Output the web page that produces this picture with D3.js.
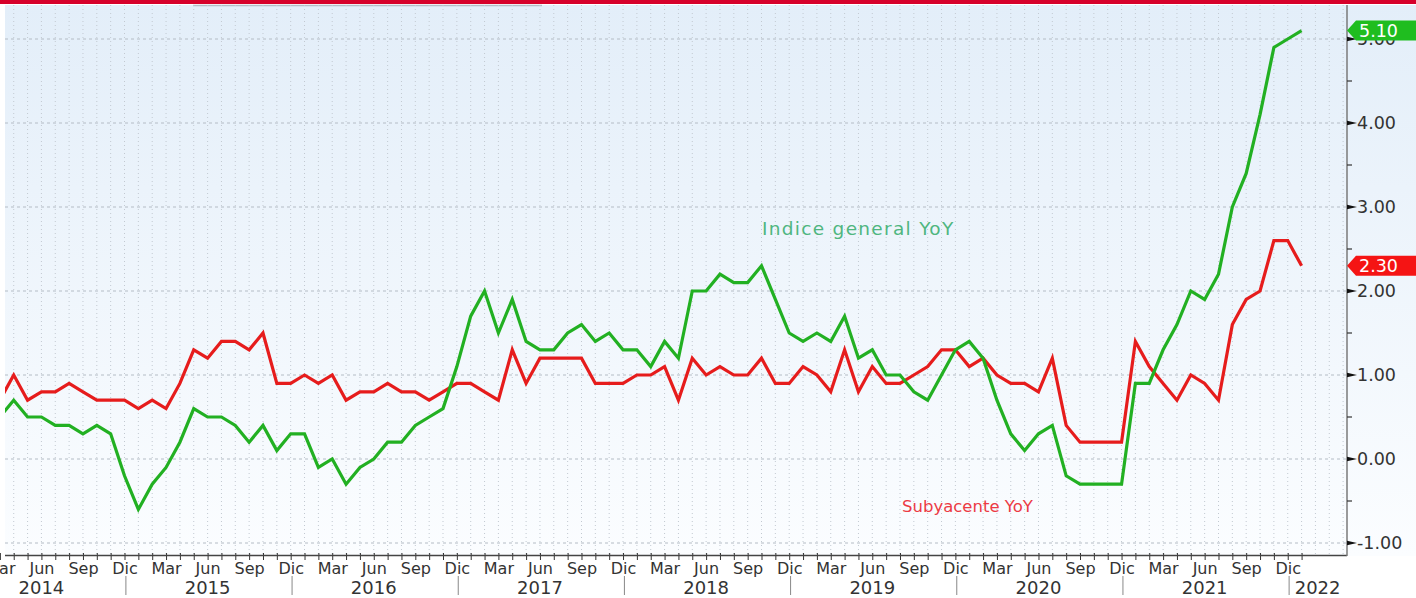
<!DOCTYPE html>
<html>
<head>
<meta charset="utf-8">
<script src="https://cdn.jsdelivr.net/npm/d3@7"></script>
<style>
  html, body { margin: 0; padding: 0; background: #ffffff; }
  svg { display: block; }
  text { font-family: "DejaVu Sans", Verdana, sans-serif; }
</style>
</head>
<body>
<div id="chart"></div>
<script>
// months run Mar 2014 .. Jan 2022, index 0 = Jan 2014
var firstMonth = 2

var general = [
    0.5, 0.7, 0.5, 0.5, 0.4, 0.4, 0.3, 0.4, 0.3, -0.2,
    -0.6, -0.3, -0.1, 0.2, 0.6, 0.5, 0.5, 0.4, 0.2, 0.4, 0.1, 0.3,
    0.3, -0.1, 0.0, -0.3, -0.1, 0.0, 0.2, 0.2, 0.4, 0.5, 0.6, 1.1,
    1.7, 2.0, 1.5, 1.9, 1.4, 1.3, 1.3, 1.5, 1.6, 1.4, 1.5, 1.3,
    1.3, 1.1, 1.4, 1.2, 2.0, 2.0, 2.2, 2.1, 2.1, 2.3, 1.9, 1.5,
    1.4, 1.5, 1.4, 1.7, 1.2, 1.3, 1.0, 1.0, 0.8, 0.7, 1.0, 1.3,
    1.4, 1.2, 0.7, 0.3, 0.1, 0.3, 0.4, -0.2, -0.3, -0.3, -0.3, -0.3,
    0.9, 0.9, 1.3, 1.6, 2.0, 1.9, 2.2, 3.0, 3.4, 4.1, 4.9, 5.0,
    5.1]

var core = [
    0.7, 1.0, 0.7, 0.8, 0.8, 0.9, 0.8, 0.7, 0.7, 0.7,
    0.6, 0.7, 0.6, 0.9, 1.3, 1.2, 1.4, 1.4, 1.3, 1.5, 0.9, 0.9,
    1.0, 0.9, 1.0, 0.7, 0.8, 0.8, 0.9, 0.8, 0.8, 0.7, 0.8, 0.9,
    0.9, 0.8, 0.7, 1.3, 0.9, 1.2, 1.2, 1.2, 1.2, 0.9, 0.9, 0.9,
    1.0, 1.0, 1.1, 0.7, 1.2, 1.0, 1.1, 1.0, 1.0, 1.2, 0.9, 0.9,
    1.1, 1.0, 0.8, 1.3, 0.8, 1.1, 0.9, 0.9, 1.0, 1.1, 1.3, 1.3,
    1.1, 1.2, 1.0, 0.9, 0.9, 0.8, 1.2, 0.4, 0.2, 0.2, 0.2, 0.2,
    1.4, 1.1, 0.9, 0.7, 1.0, 0.9, 0.7, 1.6, 1.9, 2.0, 2.6, 2.6,
    2.3]

var monthNames = ['Ene', 'Feb', 'Mar', 'Abr', 'May', 'Jun', 'Jul', 'Ago', 'Sep', 'Oct', 'Nov', 'Dic']
var labelMonths = ['Mar', 'Jun', 'Sep', 'Dic']
var years = [2014, 2015, 2016, 2017, 2018, 2019, 2020, 2021, 2022]
var yTicks = [-1, 0, 1, 2, 3, 4, 5]
var yMinor = [-0.5, 0.5, 1.5, 2.5, 3.5, 4.5]

var width = 1416, height = 598
var pLeft = 5, pRight = 1347, pTop = 5, pBottom = 556

var svg = d3.select('#chart').append('svg')
    .attr('width', width)
    .attr('height', height)

var defs = svg.append('defs')
var grad = defs.append('linearGradient')
    .attr('id', 'bg').attr('x1', 0).attr('y1', 0).attr('x2', 0).attr('y2', 1)
grad.append('stop').attr('offset', '0%').attr('stop-color', '#e3eef9')
grad.append('stop').attr('offset', '100%').attr('stop-color', '#fbfdff')

defs.append('clipPath').attr('id', 'clip')
    .append('rect')
    .attr('x', pLeft).attr('y', pTop)
    .attr('width', pRight - pLeft).attr('height', pBottom - pTop)

// background
svg.append('rect')
    .attr('x', pLeft).attr('y', pTop)
    .attr('width', width - pLeft).attr('height', pBottom - pTop)
    .style('fill', 'url(#bg)')

// red strip on top
svg.append('rect')
    .attr('x', 0).attr('y', 0)
    .attr('width', width).attr('height', 4)
    .style('fill', '#d6002a')
svg.append('line')
    .attr('x1', 193).attr('x2', 542).attr('y1', 5.5).attr('y2', 5.5)
    .style('stroke', '#b3bcc6').style('stroke-width', 1.5)

// scales
var x = d3.scaleLinear()
    .domain([2.37, 99.28])
    .range([pLeft, pRight])
var y = d3.scaleLinear()
    .domain([-1, 5])
    .range([543, 39])

var monthIdx = d3.range(firstMonth, firstMonth + general.length)
var allTicks = d3.range(2, firstMonth + general.length)

// grid
var grid = svg.append('g')
grid.selectAll('.vgrid')
    .data(d3.range(3, 100))
    .enter()
    .append('line')
    .attr('x1', d => x(d)).attr('x2', d => x(d))
    .attr('y1', pTop).attr('y2', pBottom)
    .style('stroke', '#c2c9d1')
    .style('stroke-width', 1)
    .style('stroke-dasharray', '1,3')
grid.selectAll('.hgrid')
    .data(yTicks)
    .enter()
    .append('line')
    .attr('x1', pLeft).attr('x2', pRight)
    .attr('y1', d => y(d)).attr('y2', d => y(d))
    .style('stroke', '#b4bcc5')
    .style('stroke-width', 1)
    .style('stroke-dasharray', '3,3')

// lines
var line = d3.line()
    .x(function (d) { return x(d[0]) })
    .y(function (d) { return y(d[1]) })

var lines = svg.append('g').attr('clip-path', 'url(#clip)')
lines.append('path')
    .datum(monthIdx.map((m, i) => [m, core[i]]))
    .attr('d', line)
    .style('fill', 'none')
    .style('stroke', '#e61c1c')
    .style('stroke-width', 3.2)
lines.append('path')
    .datum(monthIdx.map((m, i) => [m, general[i]]))
    .attr('d', line)
    .style('fill', 'none')
    .style('stroke', '#22b022')
    .style('stroke-width', 3.2)

// series labels
svg.append('text')
    .attr('x', 762).attr('y', 235)
    .text('Indice general YoY')
    .style('font-size', '18.5px')
    .style('letter-spacing', '1.3px')
    .style('fill', '#4fb67f')
svg.append('text')
    .attr('x', 902).attr('y', 512)
    .text('Subyacente YoY')
    .style('font-size', '16.5px')
    .style('fill', '#ec3a44')

// bottom axis
var xAxis = svg.append('g')
    .attr('transform', 'translate(0,' + pBottom + ')')
    .call(d3.axisBottom(x)
        .tickValues(allTicks)
        .tickSize(4)
        .tickPadding(3)
        .tickFormat(function (d) {
            var name = monthNames[d % 12]
            return labelMonths.indexOf(name) >= 0 ? name : ''
        }))
xAxis.select('.domain').remove()
xAxis.selectAll('.tick line')
    .attr('y1', -3)
    .style('stroke', '#333')
xAxis.selectAll('.tick text')
    .style('font-family', 'DejaVu Sans')
    .style('font-size', '16px')
    .style('fill', '#333')
svg.append('line')
    .attr('x1', pLeft).attr('x2', pRight)
    .attr('y1', pBottom - 0.5).attr('y2', pBottom - 0.5)
    .style('stroke', '#444').style('stroke-width', 1.5)

// year separators and labels
var yearAxis = svg.append('g')
years.forEach(function (yr) {
    var i0 = (yr - 2014) * 12 - 1
    var sx = x(i0 + 0.1)
    if (sx > pLeft && sx < pRight) {
        yearAxis.append('line')
            .attr('x1', sx).attr('x2', sx)
            .attr('y1', 576).attr('y2', 595)
            .style('stroke', '#888').style('stroke-width', 1)
    }
    var cx = (x(i0) + x(i0 + 12)) / 2
    var anchor = 'middle'
    if (x(i0 + 12) > pRight) {
        cx = x(i0) + 7
        anchor = 'start'
    }
    yearAxis.append('text')
        .attr('x', cx).attr('y', 594)
        .attr('text-anchor', anchor)
        .text(yr)
        .style('font-size', '18px')
        .style('fill', '#333')
})

// right axis
svg.append('line')
    .attr('x1', pRight).attr('x2', pRight)
    .attr('y1', pTop).attr('y2', pBottom)
    .style('stroke', '#7a7a7a').style('stroke-width', 1.5)
var yAxis = svg.append('g')
yAxis.selectAll('.major')
    .data(yTicks)
    .enter()
    .append('path')
    .attr('d', d => 'M' + pRight + ',' + (y(d) - 2.2) + 'L' + (pRight + 10) + ',' + y(d) + 'L' + pRight + ',' + (y(d) + 2.2) + 'Z')
    .style('fill', '#111')
yAxis.selectAll('.minor')
    .data(yMinor)
    .enter()
    .append('line')
    .attr('x1', pRight).attr('x2', pRight + 5)
    .attr('y1', d => y(d)).attr('y2', d => y(d))
    .style('stroke', '#333').style('stroke-width', 1.2)
yAxis.selectAll('.lab')
    .data(yTicks)
    .enter()
    .append('text')
    .attr('x', pRight + 10).attr('y', d => y(d))
    .attr('dy', '0.36em')
    .text(d => d.toFixed(2))
    .style('font-size', '17.5px')
    .style('fill', '#333')

// last value tags
function tag(value, color) {
    var ty = y(value)
    var g = svg.append('g')
    g.append('path')
        .attr('d', 'M' + pRight + ',' + ty + 'L' + (pRight + 9) + ',' + (ty - 10) + 'L' + width + ',' + (ty - 10) +
            'L' + width + ',' + (ty + 10) + 'L' + (pRight + 9) + ',' + (ty + 10) + 'Z')
        .style('fill', color)
    g.append('text')
        .attr('x', pRight + 12).attr('y', ty)
        .attr('dy', '0.36em')
        .text(value.toFixed(2))
        .style('font-size', '17.5px')
        .style('fill', '#ffffff')
}
tag(general[general.length - 1], '#1fbd1f')
tag(core[core.length - 1], '#f51414')
</script>
</body>
</html>
